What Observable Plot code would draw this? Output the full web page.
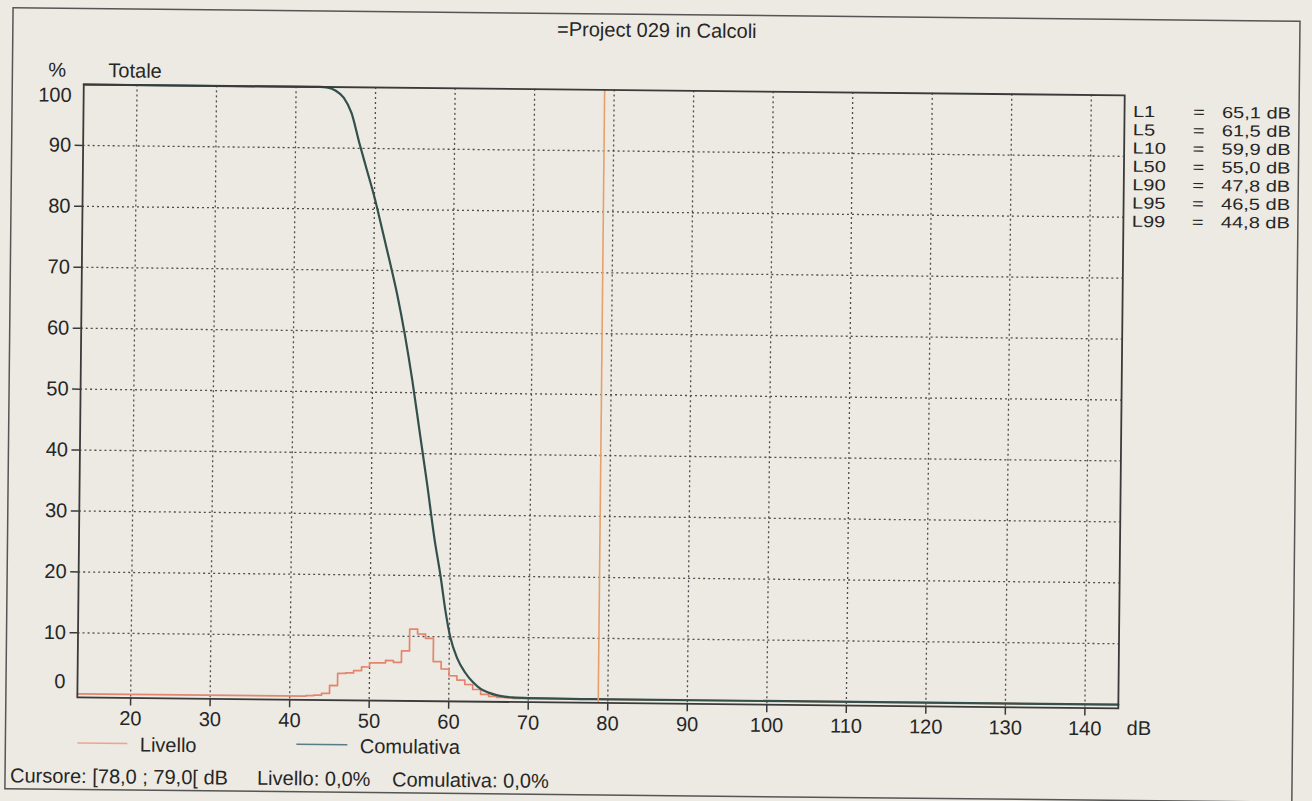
<!DOCTYPE html>
<html>
<head>
<meta charset="utf-8">
<script src="https://cdn.jsdelivr.net/npm/d3@7"></script>
<script src="https://cdn.jsdelivr.net/npm/@observablehq/plot@0.6"></script>
<style>
  html, body { margin: 0; padding: 0; background: #eceae2; overflow: hidden; }
  #page { position: relative; width: 1312px; height: 801px; transform: rotate(0.6deg); transform-origin: 656px 400px; }
  #page > svg { position: absolute; left: 0; top: 0; }
  text { font-family: 'Liberation Sans', Arial, sans-serif; }
</style>
</head>
<body>
<div id="page"></div>
<script>
// ---- data ----
const xTicks = [20, 30, 40, 50, 60, 70, 80, 90, 100, 110, 120, 130, 140];
const yTicks = [10, 20, 30, 40, 50, 60, 70, 80, 90];
const xDomain = [13.3, 144.2];
const yDomain = [-0.6, 100];

// Livello: 1 dB histogram bins (bin start, %)
const livelloDb  = [13.3, 42, 43, 44, 45, 46, 47, 48, 49, 50, 51, 52, 53, 54, 55, 56, 57, 58, 59, 60, 61, 62, 63, 64, 65, 66, 67, 68, 144.2];
const livelloPct = [0, 0.1, 0.2, 0.5, 1.8, 3.8, 3.9, 4.3, 4.9, 5.6, 5.6, 6.0, 5.7, 7.6, 11.2, 10.4, 9.7, 5.9, 4.7, 3.6, 2.9, 2.2, 1.4, 0.6, 0.3, 0.15, 0.1, 0, 0];

// Comulativa (% of time level exceeded)
const cumDb  = [13.3, 42, 43, 44, 45, 46, 47, 48, 49, 50, 51, 52, 53, 54, 55, 56, 57, 58, 58.8, 59.5, 60.1, 61, 62, 63, 64, 65, 66, 67, 68, 70, 74, 78, 144.2];
const cumPct = [100, 100, 100, 99.9, 99.4, 98.3, 95.8, 91, 86.5, 82, 76.8, 71.5, 66, 59.5, 52, 43.5, 35, 26, 20, 14, 10, 6.5, 4.2, 2.6, 1.5, 0.9, 0.5, 0.28, 0.15, 0.07, 0.03, 0, 0];

const cursorDb = [78.8];

const statNames  = ["L1", "L5", "L10", "L50", "L90", "L95", "L99"];
const statValues = ["65,1 dB", "61,5 dB", "59,9 dB", "55,0 dB", "47,8 dB", "46,5 dB", "44,8 dB"];

const titleText = "=Project 029 in Calcoli";
const cursorText = ["Cursore: [78,0 ; 79,0[ dB", "Livello: 0,0%", "Comulativa: 0,0%"];

// ---- colours ----
const cLiv = "#e3856f";
const cCum = "#33504c";
const cCursor = "#e8a06a";
const cAxis = "#3a3a3a";
const cText = "#262626";

const livello = livelloDb.map((d, i) => ({db: d, pct: livelloPct[i]}));
const cum = cumDb.map((d, i) => ({db: d, pct: cumPct[i]}));

const chart = Plot.plot({
  width: 1312,
  height: 801,
  marginLeft: 80,
  marginRight: 191,
  marginTop: 90,
  marginBottom: 98,
  x: {domain: xDomain},
  y: {domain: yDomain},
  style: {background: "transparent", fontFamily: "'Liberation Sans', Arial, sans-serif", fontSize: "20px", color: cText, overflow: "visible"},
  marks: [
    Plot.gridX(xTicks, {stroke: "#444", strokeOpacity: 0.95, strokeDasharray: "2,3", strokeWidth: 1.3}),
    Plot.gridY(yTicks, {stroke: "#444", strokeOpacity: 0.95, strokeDasharray: "2,3", strokeWidth: 1.3}),
    Plot.line(livello, {x: "db", y: "pct", curve: "step-after", stroke: cLiv, strokeWidth: 1.7}),
    Plot.line(cum, {x: "db", y: "pct", curve: "monotone-x", stroke: cCum, strokeWidth: 2.2}),
    Plot.ruleX(cursorDb, {stroke: cCursor, strokeWidth: 1.6}),
    Plot.frame({stroke: cAxis, strokeWidth: 1.8}),
    Plot.axisX(xTicks, {tickSize: 8, tickPadding: 5, label: null, stroke: cAxis, strokeWidth: 1.5}),
    Plot.axisY(yTicks, {tickSize: 8, tickPadding: 4, label: null, stroke: cAxis, strokeWidth: 1.5}),
    Plot.axisY([0], {tickSize: 0, tickPadding: 12, dy: -12, label: null}),
    Plot.axisY([100], {tickSize: 0, tickPadding: 12, dy: 11, label: null})
  ]
});

const page = document.getElementById("page");
page.appendChild(chart);

// ---- annotation overlay (title, units, legend, stats, cursor line) ----
const ns = "http://www.w3.org/2000/svg";
const ov = document.createElementNS(ns, "svg");
ov.setAttribute("width", 1312);
ov.setAttribute("height", 801);
ov.style.overflow = "visible";
page.appendChild(ov);

function txt(s, x, y, anchor, size) {
  const t = document.createElementNS(ns, "text");
  t.setAttribute("x", x);
  t.setAttribute("y", y);
  t.setAttribute("fill", cText);
  t.setAttribute("font-size", size || 20);
  if (anchor) t.setAttribute("text-anchor", anchor);
  t.textContent = s;
  ov.appendChild(t);
  return t;
}
function seg(x1, y1, x2, y2, color, w) {
  const l = document.createElementNS(ns, "line");
  l.setAttribute("x1", x1); l.setAttribute("y1", y1);
  l.setAttribute("x2", x2); l.setAttribute("y2", y2);
  l.setAttribute("stroke", color); l.setAttribute("stroke-width", w);
  ov.appendChild(l);
}

// outer box
const box = document.createElementNS(ns, "rect");
box.setAttribute("x", 9); box.setAttribute("y", 14.5);
box.setAttribute("width", 1287); box.setAttribute("height", 781);
box.setAttribute("fill", "none"); box.setAttribute("stroke", "#555"); box.setAttribute("stroke-width", 1.5);
ov.appendChild(box);

txt(titleText, 653, 37, "middle");
txt("%", 45, 83);
txt("Totale", 105, 83);
txt("dB", 1130, 730);

// legend
seg(81, 749, 131, 749, "#eea58f", 1.6);
txt("Livello", 143.5, 757);
seg(300, 748, 351, 748, "#5b7b86", 1.6);
txt("Comulativa", 363.5, 756);

// cursor info
txt(cursorText[0], 14, 789);
txt(cursorText[1], 261, 789);
txt(cursorText[2], 396, 789);

// stats: measured at 20px width, drawn at 16px height so rows don't collide
function statTxt(s, x, y) {
  const t = txt(s, x, y, null, 20);
  const w = t.getComputedTextLength();
  t.setAttribute("font-size", 16);
  t.setAttribute("textLength", w);
  t.setAttribute("lengthAdjust", "spacingAndGlyphs");
  return t;
}
statNames.forEach((n, i) => {
  const y = 112 + i * 18.3;
  statTxt(n, 1130, y);
  statTxt("=", 1190, y);
  statTxt(statValues[i], 1219, y);
});
</script>
</body>
</html>
